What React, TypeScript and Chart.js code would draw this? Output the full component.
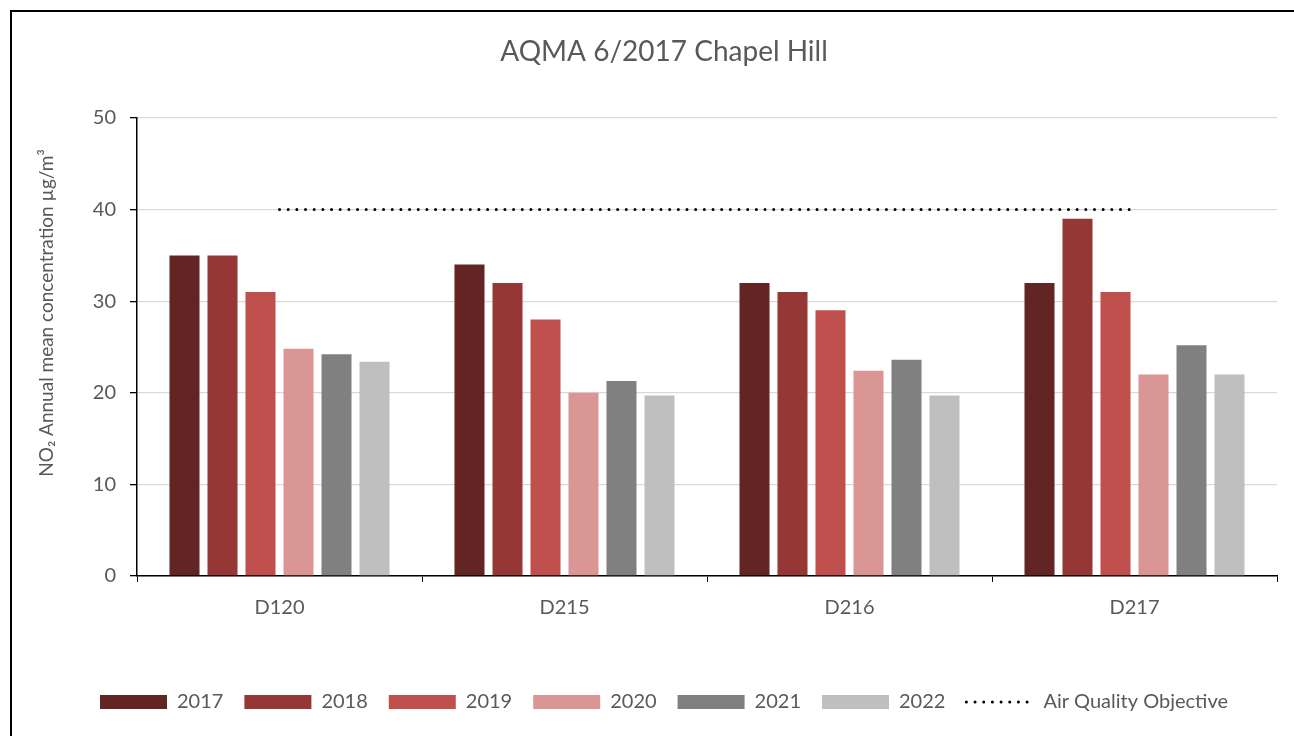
import React, { useEffect, useRef } from "react";
import { Chart, registerables } from "chart.js";

Chart.register(...registerables);

const categories = ["D120", "D215", "D216", "D217"];
const years = ["2017", "2018", "2019", "2020", "2021", "2022"];
const v2017 = [35, 34, 32, 32];
const v2018 = [35, 32, 31, 39];
const v2019 = [31, 28, 29, 31];
const v2020 = [24.8, 20.0, 22.4, 22.0];
const v2021 = [24.2, 21.3, 23.6, 25.2];
const v2022 = [23.4, 19.7, 19.7, 22.0];
const objective = [40, 40, 40, 40];
const objectiveLabel = "Air Quality Objective";
const chartTitle = "AQMA 6/2017 Chapel Hill";
const yTitle = "NO₂ Annual mean concentration µg/m³";
const yMin = 0;
const yMax = 50;
const yStep = 10;

const seriesValues = [v2017, v2018, v2019, v2020, v2021, v2022];
const barColors = ["#632523", "#953735", "#C0504D", "#DA9694", "#808080", "#BFBFBF"];

const FONT = "Lato";
const TEXT = "#595959";
const DOTS = [0.01, 8.66];

const yTitlePlugin = {
  id: "yTitlePlugin",
  afterDraw(chart: any) {
    const { ctx, chartArea } = chart;
    ctx.save();
    ctx.translate(35, chartArea.top + 195);
    ctx.rotate(-Math.PI / 2);
    ctx.textAlign = "center";
    ctx.textBaseline = "middle";
    ctx.fillStyle = TEXT;
    ctx.font = `19px ${FONT}`;
    ctx.fillText(yTitle, 0, 0);
    ctx.restore();
  },
};

export default function App() {
  const ref = useRef<HTMLCanvasElement | null>(null);

  useEffect(() => {
    if (!ref.current) return;
    const barSets = years.map((y, i) => ({
      type: "bar" as const,
      label: y,
      data: seriesValues[i],
      backgroundColor: barColors[i],
      borderWidth: 0,
      pointStyle: "rect",
      categoryPercentage: 0.8,
      barPercentage: 0.79,
    }));
    const chart = new Chart(ref.current, {
      type: "bar",
      data: {
        labels: categories,
        datasets: [
          ...barSets,
          {
            type: "line" as const,
            label: objectiveLabel,
            data: objective,
            borderColor: "#000000",
            backgroundColor: "#000000",
            borderWidth: 3,
            borderDash: DOTS,
            borderCapStyle: "round",
            pointRadius: 0,
            pointHoverRadius: 0,
            pointStyle: "line",
            fill: false,
          } as any,
        ],
      },
      plugins: [yTitlePlugin],
      options: {
        responsive: false,
        animation: false,
        layout: { padding: { left: 39, right: 17, top: 0, bottom: 14 } },
        plugins: {
          tooltip: { enabled: false },
          title: {
            display: true,
            text: chartTitle,
            color: TEXT,
            font: { family: FONT, size: 28, weight: "normal" },
            padding: { top: 23.2, bottom: 49.2 },
          },
          legend: {
            position: "bottom",
            labels: {
              usePointStyle: true,
              pointStyleWidth: 67,
              boxHeight: 14,
              padding: 21,
              color: TEXT,
              font: { family: FONT, size: 20 },
              generateLabels: (c: any) => {
                const items = Chart.defaults.plugins.legend.labels.generateLabels(c);
                return items.map((it: any) => {
                  if (it.datasetIndex === years.length) {
                    return {
                      ...it,
                      pointStyle: "line",
                      lineWidth: 3,
                      lineDash: DOTS,
                      lineCap: "round",
                      strokeStyle: "#000000",
                      fillStyle: "#000000",
                    };
                  }
                  return { ...it, lineWidth: 0, pointStyle: "rect" };
                });
              },
            },
          },
        },
        scales: {
          x: {
            grid: {
              drawOnChartArea: false,
              offset: true,
              tickLength: 6,
              tickColor: "#000000",
            },
            border: { color: "#000000", width: 1.5 },
            ticks: { padding: 14, color: TEXT, font: { family: FONT, size: 20 } },
            afterFit: (s: any) => {
              s.height = 95;
            },
          },
          y: {
            min: yMin,
            max: yMax,
            ticks: {
              stepSize: yStep,
              padding: 14,
              color: TEXT,
              font: { family: FONT, size: 20 },
            },
            grid: { color: "#D9D9D9", lineWidth: 1.3, tickColor: "#000000", tickLength: 7 },
            border: { color: "#000000", width: 1.5 },
            afterFit: (s: any) => {
              s.width = 86;
            },
          },
        },
      },
    } as any);
    return () => chart.destroy();
  }, []);

  return (
    <div
      style={{
        position: "absolute",
        left: 10,
        top: 10,
        width: 1284,
        height: 726,
        borderTop: "2px solid #000",
        borderLeft: "2px solid #000",
        boxSizing: "border-box",
        background: "#fff",
      }}
    >
      <canvas ref={ref} width={1282} height={724} style={{ display: "block", width: 1282, height: 724 }} />
    </div>
  );
}
